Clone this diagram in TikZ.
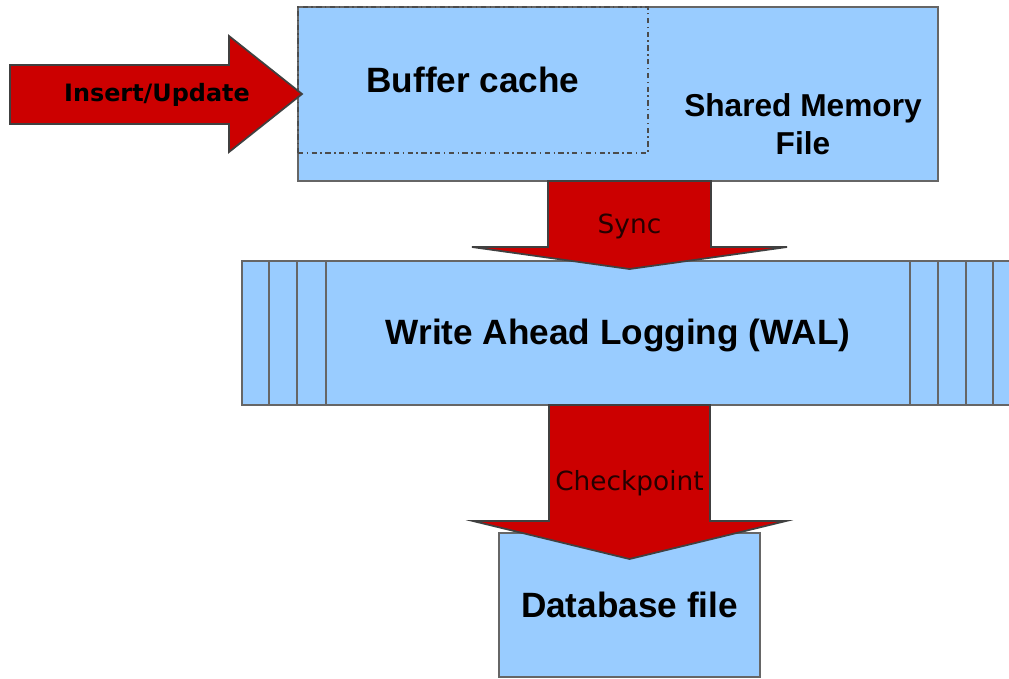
\documentclass[tikz,border=0pt]{standalone}
\usepackage{fontspec}
\setmainfont{Liberation Sans}
\newfontfamily\dejavu{DejaVu Sans}
\usetikzlibrary{positioning}
\definecolor{memblue}{HTML}{99CCFF}
\definecolor{flowred}{HTML}{CC0000}

\begin{document}
\begin{tikzpicture}[x=0.01cm, y=-0.01cm,
  bx/.style={draw=black!60, fill=memblue, line width=0.5pt, inner sep=0pt, align=center},
  lbl/.style={font=\fontsize{10}{12}\selectfont\bfseries, align=center},
  flow/.style={fill=flowred, draw=black!75, line width=0.5pt, line join=miter},
  flowlbl/.style={font=\dejavu\fontsize{7.5}{9}\selectfont, text=black!85!red}]
\useasboundingbox (0,0) rectangle (1009,678);

% shared memory file, buffer cache inside it
\node[bx, minimum width=6.40cm, minimum height=1.74cm] (shm) at (618,94) {};
\node[lbl, draw=black!70, dash pattern=on 1.5pt off 1pt on 0.4pt off 1pt, line width=0.4pt, inner sep=0pt,
      minimum width=3.50cm, minimum height=1.46cm] (cache) at (473,80) {Buffer cache};
\node[lbl, font=\fontsize{9}{10.8}\selectfont\bfseries] (shmtxt) at (803,124) {Shared Memory\\File};

% the log, open to the right
\fill[memblue] (242,261) rectangle (1009,405);
\draw[black!60, line width=0.5pt] (1009,261) -| (242,405) -- (1009,405);
\foreach \x in {269,297,326,910,938,966,993}{\draw[black!60, line width=0.5pt] (\x,261) -- (\x,405);}
\node[lbl] (wal) at (618,335) {Write Ahead Logging (WAL)};

% database file
\node[bx, lbl, minimum width=2.61cm, minimum height=1.44cm] (db) at (629.5,605) {Database file};

% block arrows
\filldraw[flow] (10,65) -- (229,65) -- (229,36) -- (302,94) -- (229,152) -- (229,124) -- (10,124) -- cycle;
\node[font=\dejavu\bfseries\fontsize{6.8}{8}\selectfont] (ins) at (157,95) {Insert/Update};

\filldraw[flow] (548,181) -- (711,181) -- (711,247) -- (787,247) -- (629.5,269) -- (472,247) -- (548,247) -- cycle;
\node[flowlbl] (sync) at (629.5,226) {Sync};

\filldraw[flow] (549,405) -- (710,405) -- (710,521) -- (786,521) -- (629.5,559) -- (473,521) -- (549,521) -- cycle;
\node[flowlbl] (chk) at (629.5,483) {Checkpoint};
\end{tikzpicture}
\end{document}
